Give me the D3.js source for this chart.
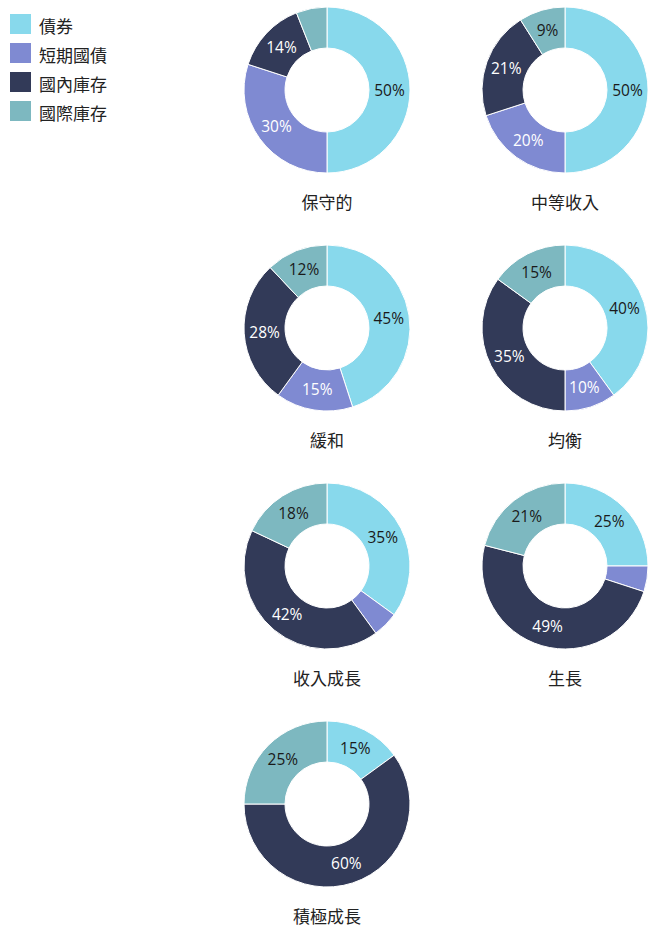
<!DOCTYPE html>
<html>
<head>
<meta charset="utf-8">
<script src="https://cdn.jsdelivr.net/npm/d3@7"></script>
<style>
  body { margin: 0; background: #fff; }
  text { font-family: "Noto Sans CJK TC", "Noto Sans", sans-serif; }
</style>
</head>
<body>
<div id="chart"></div>
<script>
const width = 656;
const height = 931;

// data
const assetClasses = ["債券", "短期國債", "國內庫存", "國際庫存"];
const portfolios = ["保守的", "中等收入", "緩和", "均衡", "收入成長", "生長", "積極成長"];
const bonds = [50, 50, 45, 40, 35, 25, 15];
const shortTerm = [30, 20, 15, 10, 5, 5, 0];
const domestic = [14, 21, 28, 35, 42, 49, 60];
const international = [6, 9, 12, 15, 18, 21, 25];

const colors = ["#88d9ec", "#7f8ad2", "#323a58", "#7db8c0"];
const labelColors = ["#1a1a1a", "#ffffff", "#ffffff", "#1a1a1a"];

const svg = d3
  .select("#chart")
  .append("svg")
  .attr("width", width)
  .attr("height", height);

// grid of donuts, two per row
const colX = d3.scalePoint().domain([0, 1]).range([327, 565]);
const rowY = d3.scaleLinear().domain([0, 1]).range([90, 328]);

const outerR = 83;
const innerR = 42;

const pie = d3.pie().sort(null).value((d) => d.value);
const arc = d3.arc().innerRadius(innerR).outerRadius(outerR);
const labelArc = d3
  .arc()
  .innerRadius((innerR + outerR) / 2)
  .outerRadius((innerR + outerR) / 2);

portfolios.forEach((name, i) => {
  const values = [bonds[i], shortTerm[i], domestic[i], international[i]];
  const slices = values.map((v, k) => ({ key: k, value: v }));

  const g = svg
    .append("g")
    .attr(
      "transform",
      "translate(" + colX(i % 2) + "," + rowY(Math.floor(i / 2)) + ")"
    );

  const arcs = pie(slices).filter((d) => d.data.value > 0);

  g.selectAll("path")
    .data(arcs)
    .enter()
    .append("path")
    .attr("d", arc)
    .attr("fill", (d) => colors[d.data.key])
    .attr("stroke", "#fff")
    .attr("stroke-width", 1);

  // small slices get no label
  g.selectAll("text.pct")
    .data(arcs.filter((d) => d.data.value >= 9))
    .enter()
    .append("text")
    .attr("class", "pct")
    .attr("transform", (d) => "translate(" + labelArc.centroid(d) + ")")
    .attr("text-anchor", "middle")
    .attr("dy", "0.36em")
    .attr("font-size", 15.5)
    .style("font-family", '"Open Sans", "Noto Sans", sans-serif')
    .attr("fill", (d) => labelColors[d.data.key])
    .text((d) => d.data.value + "%");

  g.append("text")
    .attr("y", 113)
    .attr("text-anchor", "middle")
    .attr("dy", "0.35em")
    .attr("font-size", 17)
    .attr("fill", "#222")
    .text(name);
});

// legend
const legendY = d3.scaleLinear().domain([0, 1]).range([14, 43]);

const legend = svg
  .append("g")
  .selectAll("g")
  .data(assetClasses)
  .enter()
  .append("g")
  .attr("transform", (d, i) => "translate(10," + legendY(i) + ")");

legend
  .append("rect")
  .attr("width", 21)
  .attr("height", 20)
  .attr("fill", (d, i) => colors[i]);

legend
  .append("text")
  .attr("x", 29)
  .attr("y", 13)
  .attr("dy", "0.35em")
  .attr("font-size", 17)
  .attr("fill", "#222")
  .text((d) => d);
</script>
</body>
</html>
